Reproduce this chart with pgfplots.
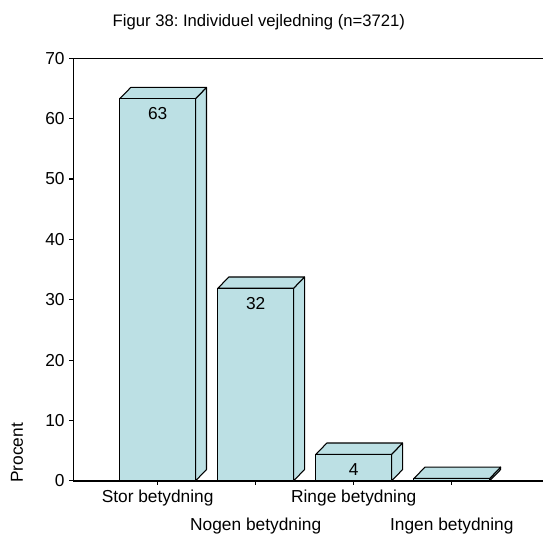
\documentclass[border=0pt]{standalone}
\usepackage{fontspec}
\setmainfont{Liberation Sans}
\usepackage{pgfplots}
\pgfplotsset{compat=1.18}
\definecolor{barfill}{RGB}{188,224,228}
\begin{document}
\frenchspacing
\begin{tikzpicture}
\begin{axis}[
  scale only axis, width=352.3pt, height=317pt,
  xmin=-0.86, xmax=3.93, ymin=0, ymax=70,
  axis lines*=left, axis line style={line width=1pt},
  clip=false,
  ytick={0,10,...,70},
  xtick={0,1,2,3},
  xticklabels={Stor betydning,{},Ringe betydning,{}},
  extra x ticks={1,3},
  extra x tick labels={Nogen betydning,Ingen betydning},
  extra x tick style={major tick length=0pt, xticklabel style={yshift=-24pt}},
  tick align=outside, major tick length=3pt,
  tick style={black, line width=0.8pt},
  /pgf/number format/assume math mode=true,
  tick label style={font=\fontsize{13}{15}\selectfont},
  title={Figur 38: Individuel vejledning (n=3721)},
  every axis title/.style={at={(axis description cs:0.395,1.086)}, anchor=center, font=\fontsize{12.5}{14}\selectfont},
  ylabel={Procent},
  every axis y label/.style={at={(axis description cs:-0.1199,0.0662)}, rotate=90, anchor=center, font=\fontsize{13}{15}\selectfont},
  every axis plot/.append style={line join=round},
]
% side faces
\addplot[forget plot, no markers, fill=barfill, draw=black, line width=0.8pt] coordinates {(0.386,0) (0.498,1.87) (0.498,65.17) (0.386,63.3)} -- cycle;
\addplot[forget plot, no markers, fill=barfill, draw=black, line width=0.8pt] coordinates {(1.386,0) (1.498,1.87) (1.498,33.77) (1.386,31.9)} -- cycle;
\addplot[forget plot, no markers, fill=barfill, draw=black, line width=0.8pt] coordinates {(2.386,0) (2.498,1.87) (2.498,6.27) (2.386,4.4)} -- cycle;
\addplot[forget plot, no markers, fill=barfill, draw=black, line width=0.8pt] coordinates {(3.386,0) (3.498,1.87) (3.498,2.27) (3.386,0.4)} -- cycle;
% top faces
\addplot[forget plot, no markers, fill=barfill, draw=black, line width=0.8pt] coordinates {(-0.386,63.3) (0.386,63.3) (0.498,65.17) (-0.274,65.17)} -- cycle;
\addplot[forget plot, no markers, fill=barfill, draw=black, line width=0.8pt] coordinates {(0.614,31.9) (1.386,31.9) (1.498,33.77) (0.726,33.77)} -- cycle;
\addplot[forget plot, no markers, fill=barfill, draw=black, line width=0.8pt] coordinates {(1.614,4.4) (2.386,4.4) (2.498,6.27) (1.726,6.27)} -- cycle;
\addplot[forget plot, no markers, fill=barfill, draw=black, line width=0.8pt] coordinates {(2.614,0.4) (3.386,0.4) (3.498,2.27) (2.726,2.27)} -- cycle;
% front faces
\addplot[ybar, bar width=0.772, fill=barfill, draw=black, line width=0.8pt,
  point meta=explicit symbolic, nodes near coords,
  every node near coord/.style={anchor=center, yshift=-11.25pt, font=\fontsize{13}{15}\selectfont, black}]
  coordinates {(0,63.3) [63] (1,31.9) [32] (2,4.4) [4] (3,0.4) [{}]};
\draw[line width=1pt] (rel axis cs:0,1) -- (rel axis cs:1,1);
\coordinate (SW) at (rel axis cs:0,0);
\coordinate (NE) at (rel axis cs:1,1);
\end{axis}
\pgfresetboundingbox
\path[use as bounding box] ([xshift=-55pt,yshift=-42pt]SW) rectangle ([yshift=43.7pt]NE);
\end{tikzpicture}
\end{document}
